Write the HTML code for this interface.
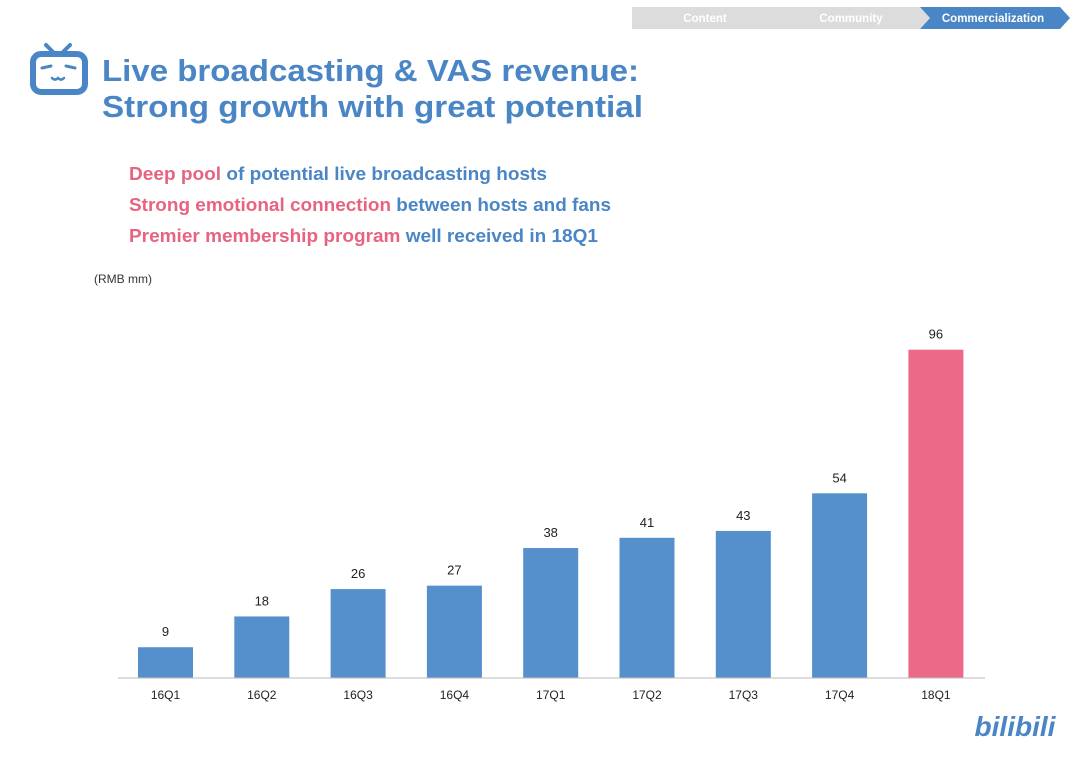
<!DOCTYPE html>
<html><head><meta charset="utf-8"><style>
body{margin:0;width:1080px;height:763px;background:#fff;font-family:"Liberation Sans",sans-serif;position:relative;overflow:hidden}
</style></head><body>
<svg width="1080" height="763" style="position:absolute;left:0;top:0">
 <g font-family="Liberation Sans" font-weight="bold" font-size="11.5">
  <polygon points="632,7 775,7 785,18 775,29 632,29" fill="#dcdcdc"/>
  <text x="705" y="22" fill="#fff" text-anchor="middle">Content</text>
  <polygon points="775,7 920,7 930,18 920,29 775,29 785,18" fill="#dcdcdc"/>
  <text x="851" y="22" fill="#fff" text-anchor="middle">Community</text>
  <polygon points="920,7 1060,7 1070,18 1060,29 920,29 930,18" fill="#4a86c5"/>
  <text x="993" y="22" fill="#fff" text-anchor="middle">Commercialization</text>
 </g>
 <g stroke="#4a86c5" fill="none" stroke-linecap="round">
  <line x1="46" y1="45" x2="54" y2="53" stroke-width="4"/>
  <line x1="70" y1="45" x2="62" y2="53" stroke-width="4"/>
  <rect x="33" y="54" width="52" height="38" rx="8" stroke-width="6"/>
  <line x1="42" y1="68" x2="51" y2="66" stroke-width="3"/>
  <line x1="66" y1="66" x2="75" y2="68" stroke-width="3"/>
  <path d="M52,78 q3,3 6,0 q3,3 6,0" stroke-width="2.5"/>
 </g>
 <text x="102" y="81" font-size="31" font-weight="bold" fill="#4a86c5" textLength="537" lengthAdjust="spacingAndGlyphs">Live broadcasting &amp; VAS revenue:</text>
 <text x="102" y="117" font-size="31" font-weight="bold" fill="#4a86c5" textLength="541" lengthAdjust="spacingAndGlyphs">Strong growth with great potential</text>
 <g font-size="18" font-weight="bold">
  <text x="129" y="180" textLength="418" lengthAdjust="spacingAndGlyphs"><tspan fill="#e8637f">Deep pool</tspan><tspan fill="#4a86c5"> of potential live broadcasting hosts</tspan></text>
  <text x="129" y="211" textLength="482" lengthAdjust="spacingAndGlyphs"><tspan fill="#e8637f">Strong emotional connection</tspan><tspan fill="#4a86c5"> between hosts and fans</tspan></text>
  <text x="129" y="242" textLength="469" lengthAdjust="spacingAndGlyphs"><tspan fill="#e8637f">Premier membership program</tspan><tspan fill="#4a86c5"> well received in 18Q1</tspan></text>
 </g>
 <text x="94" y="283" font-size="12" fill="#333">(RMB mm)</text>
 <g id="chart"></g>
 <text x="1015" y="736" font-size="28" font-weight="bold" fill="#4a86c5" text-anchor="middle" font-style="italic">bilibili</text>
</svg>
<script>
const categories=["16Q1","16Q2","16Q3","16Q4","17Q1","17Q2","17Q3","17Q4","18Q1"];
const values=[9,18,26,27,38,41,43,54,96];
const highlight=[false,false,false,false,false,false,false,false,true];
const NS="http://www.w3.org/2000/svg";
const g=document.getElementById('chart');
const base=678,scale=3.42,x0=165.5,step=96.3,bw=55;
const xPos=i=>x0+i*step;
const yPos=v=>base-v*scale;
function mk(tag,attrs){const e=document.createElementNS(NS,tag);for(const k in attrs)e.setAttribute(k,attrs[k]);g.appendChild(e);return e;}
categories.forEach((c,i)=>{
 const v=values[i];
 const r=mk('rect',{x:xPos(i)-bw/2,y:yPos(v),width:bw,height:base-yPos(v),fill:highlight[i]?'#ec6a88':'#5590cc'});
 
 
 const t=mk('text',{x:xPos(i),y:yPos(v)-11,'font-size':13,'text-anchor':'middle',fill:'#222'});
 t.textContent=v;
 
 
 const l=mk('text',{x:xPos(i),y:base+21,'font-size':12,'text-anchor':'middle',fill:'#222'});
 l.textContent=c;
 
 
});
const ax=mk('line',{x1:118,x2:985,y1:base,y2:base,stroke:'#bbb','stroke-width':1});


</script>
</body></html>
